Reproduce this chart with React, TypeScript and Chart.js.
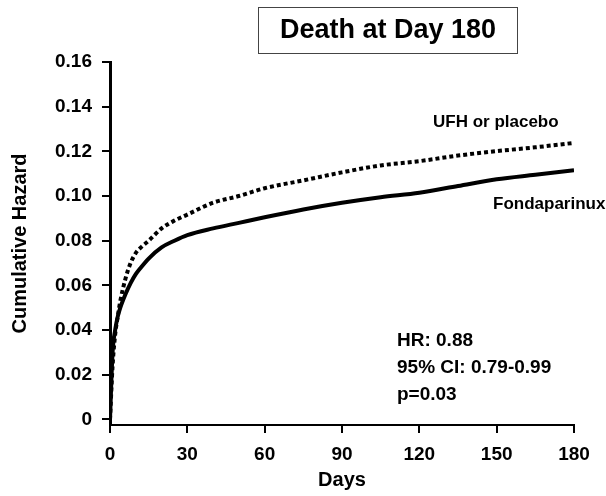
import React, { useEffect, useRef } from "react";
import { Chart, registerables } from "chart.js";

Chart.register(...registerables);

const DAYS = [0, 1, 2, 3, 4, 6, 8, 10, 12, 15, 20, 25, 30, 40, 50, 60, 75, 90, 105, 120, 135, 150, 165, 180];
const FONDAPARINUX = [0, 0.03, 0.04, 0.046, 0.05, 0.056, 0.061, 0.065, 0.068, 0.072, 0.077, 0.08, 0.0825, 0.0855, 0.088, 0.0905, 0.094, 0.097, 0.0995, 0.1015, 0.1045, 0.1075, 0.1095, 0.1115];
const UFH_PLACEBO = [0, 0.024, 0.038, 0.046, 0.053, 0.063, 0.07, 0.0745, 0.077, 0.08, 0.0855, 0.089, 0.0917, 0.097, 0.1, 0.1035, 0.107, 0.1106, 0.1137, 0.1156, 0.1181, 0.1201, 0.1218, 0.1238];
const Y_TICKS = [0, 0.02, 0.04, 0.06, 0.08, 0.1, 0.12, 0.14, 0.16];
const X_TICKS = [0, 30, 60, 90, 120, 150, 180];
const TITLE = "Death at Day 180";
const STATS = ["HR: 0.88", "95% CI: 0.79-0.99", "p=0.03"];
const SERIES_LABELS = ["Fondaparinux", "UFH or placebo"];

const FONT = "'Liberation Sans', Arial, Helvetica, sans-serif";

const textPlugin = {
  id: "textPlugin",
  afterDraw(chart: any) {
    const ctx = chart.ctx;
    ctx.save();
    // Title box
    ctx.strokeStyle = "#444";
    ctx.lineWidth = 1;
    ctx.strokeRect(258.5, 7.5, 259, 46);
    ctx.font = `bold 27px ${FONT}`;
    ctx.textBaseline = "middle";
    ctx.textAlign = "center";
    ctx.fillStyle = "#000";
    ctx.fillText(TITLE, 388, 31);

    // series labels
    ctx.font = `bold 17px ${FONT}`;
    ctx.textAlign = "left";
    ctx.fillText(SERIES_LABELS[1], 433, 122);
    ctx.fillText(SERIES_LABELS[0], 493, 204);

    // stats
    ctx.font = `bold 19px ${FONT}`;
    STATS.forEach((s, i) => {
      ctx.fillText(s, 397, 341 + i * 27);
    });
    ctx.restore();
  },
};

export default function App() {
  const ref = useRef<HTMLCanvasElement | null>(null);
  useEffect(() => {
    if (!ref.current) return;
    const chart = new Chart(ref.current, {
      type: "line",
      data: {
        datasets: [
          {
            label: SERIES_LABELS[0],
            data: DAYS.map((d, i) => ({ x: d, y: FONDAPARINUX[i] })),
            borderColor: "#000",
            borderWidth: 4,
            pointRadius: 0,
            cubicInterpolationMode: "monotone",
            fill: false,
          },
          {
            label: SERIES_LABELS[1],
            data: DAYS.map((d, i) => ({ x: d, y: UFH_PLACEBO[i] })),
            borderColor: "#000",
            borderWidth: 4,
            borderDash: [4, 3],
            borderCapStyle: "butt",
            pointRadius: 0,
            cubicInterpolationMode: "monotone",
            fill: false,
          },
        ],
      },
      options: {
        animation: false,
        responsive: false,
        maintainAspectRatio: false,
        layout: { padding: { top: 62, right: 32, bottom: 0, left: 0 } },
        plugins: {
          legend: { display: false },
          tooltip: { enabled: false },
          title: { display: false },
        },
        scales: {
          x: {
            type: "linear",
            min: 0,
            max: 180,
            afterBuildTicks: (scale: any) => {
              scale.ticks = X_TICKS.map((v) => ({ value: v }));
            },
            afterFit: (scale: any) => {
              scale.height = 71;
            },
            grid: {
              display: true,
              drawOnChartArea: false,
              drawTicks: true,
              tickLength: 8,
              color: "#000",
              lineWidth: 2,
            },
            border: { display: true, color: "#000", width: 2 },
            ticks: {
              color: "#000",
              padding: 10,
              maxRotation: 0,
              font: { family: FONT, size: 19, weight: "bold" },
            },
            title: {
              display: true,
              text: "Days",
              color: "#000",
              padding: { top: 0, bottom: 4 },
              font: { family: FONT, size: 20, weight: "bold" },
            },
          },
          y: {
            type: "linear",
            min: -0.0025,
            max: 0.16,
            afterBuildTicks: (scale: any) => {
              scale.ticks = Y_TICKS.map((v) => ({ value: v }));
            },
            afterFit: (scale: any) => {
              scale.width = 110;
            },
            grid: {
              display: true,
              drawOnChartArea: false,
              drawTicks: true,
              tickLength: 8,
              color: "#000",
              lineWidth: 2,
            },
            border: { display: true, color: "#000", width: 3 },
            ticks: {
              color: "#000",
              padding: 10,
              font: { family: FONT, size: 19, weight: "bold" },
              callback: (v: any) => (v === 0 ? "0" : Number(v).toFixed(2)),
            },
            title: {
              display: true,
              text: "Cumulative Hazard",
              color: "#000",
              padding: { top: 8, bottom: 0 },
              font: { family: FONT, size: 20, weight: "bold" },
            },
          },
        },
      },
      plugins: [textPlugin],
    });
    return () => chart.destroy();
  }, []);
  return (
    <div style={{ position: "absolute", left: 0, top: 0, width: 606, height: 496, background: "#fff" }}>
      <canvas ref={ref} width={606} height={496} style={{ width: 606, height: 496 }} />
    </div>
  );
}
